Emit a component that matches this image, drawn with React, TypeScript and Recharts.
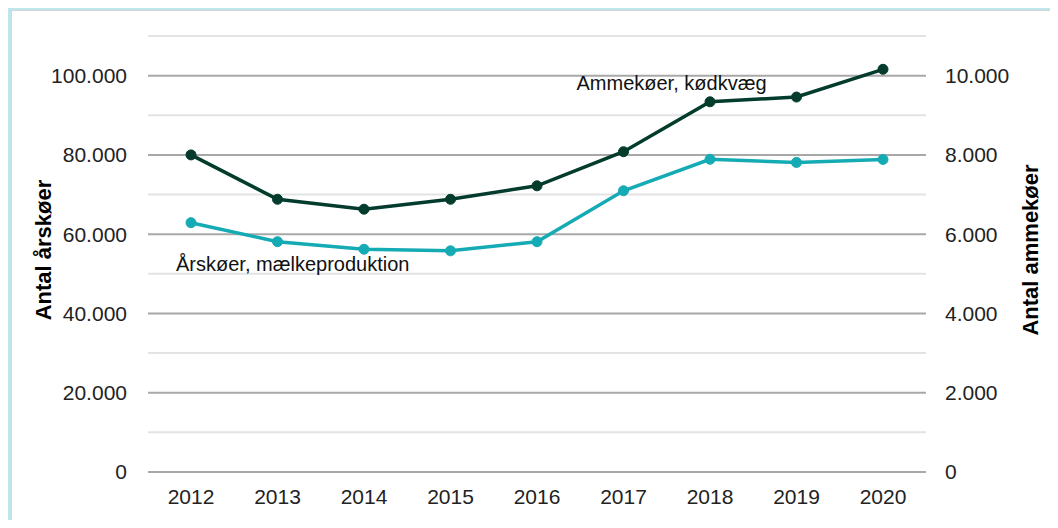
import React from 'react';
import { LineChart, Line, XAxis, YAxis, ReferenceLine, ReferenceDot, Label } from 'recharts';

// Årstal langs x-aksen
const years = ['2012', '2013', '2014', '2015', '2016', '2017', '2018', '2019', '2020'];
// Årskøer, mælkeproduktion (venstre akse)
const aarskoeer = [62900, 58100, 56200, 55800, 58100, 70950, 78900, 78100, 78850];
// Ammekøer, kødkvæg (højre akse)
const ammekoeer = [8000, 6880, 6630, 6880, 7220, 8080, 9340, 9460, 10160];

const leftTicks = [0, 20000, 40000, 60000, 80000, 100000];
const rightTicks = [0, 2000, 4000, 6000, 8000, 10000];
// Hjælpelinjer for hver 10.000 – mørke ved de nummererede værdier
const majorGrid = [0, 20000, 40000, 60000, 80000, 100000];
const minorGrid = [10000, 30000, 50000, 70000, 90000, 110000];

const FONT = '"Liberation Sans", Arial, sans-serif';
const DARK = '#033b2c';
const TEAL = '#15abb5';

const chartData = years.map((year, i) => ({
  year,
  aarskoeer: aarskoeer[i],
  ammekoeer: ammekoeer[i],
}));

const fmt = (v: number) => v.toLocaleString('da-DK').replace(/\u00a0/g, '.').replace(/,/g, '.');

const tickStyle = { fontSize: 21, fill: '#222', fontFamily: FONT };

const AxisTitle = (text: string, dx: number) => (props: any) => {
  const vb = props.viewBox;
  const cx = vb.x + dx;
  const cy = vb.y + vb.height / 2 - 4;
  return (
    <text
      x={cx}
      y={cy}
      transform={`rotate(-90 ${cx} ${cy})`}
      textAnchor="middle"
      dominantBaseline="central"
      fontSize={22}
      fontWeight="bold"
      fontFamily={FONT}
      fill="#000"
    >
      {text}
    </text>
  );
};

const Note = (text: string, dx: number) => (props: any) => {
  const vb = props.viewBox;
  return (
    <text x={vb.x + dx} y={vb.y} fontSize={20} fontFamily={FONT} fill="#111">
      {text}
    </text>
  );
};

export default function App() {
  return (
    <div style={{ margin: -8, width: 1058, height: 528, background: '#bfe7eb', position: 'relative', overflow: 'hidden' }}>
      <div
        style={{
          position: 'absolute',
          left: 11,
          top: 10,
          width: 1047,
          height: 518,
          background: '#fff',
          borderTop: '1px solid #d6d6d6',
          borderLeft: '1px solid #d6d6d6',
        }}
      >
        <LineChart width={1046} height={517} data={chartData} margin={{ top: 25, right: 10, bottom: 26, left: 56 }}>
          <XAxis
            dataKey="year"
            axisLine={false}
            tickLine={false}
            tickSize={0}
            tickMargin={17}
            height={30}
            padding={{ left: 43, right: 43 }}
            tick={tickStyle}
            interval={0}
          />
          <YAxis
            yAxisId="left"
            domain={[0, 110000]}
            ticks={leftTicks}
            tickFormatter={fmt}
            axisLine={false}
            tickLine={false}
            tickSize={0}
            tickMargin={21}
            width={80}
            tick={tickStyle}
          >
            <Label content={AxisTitle('Antal årskøer', -24.5)} />
          </YAxis>
          <YAxis
            yAxisId="right"
            orientation="right"
            domain={[0, 11000]}
            ticks={rightTicks}
            tickFormatter={fmt}
            axisLine={false}
            tickLine={false}
            tickSize={0}
            tickMargin={19}
            width={122}
            tick={{ ...tickStyle, textAnchor: 'start' }}
          >
            <Label content={AxisTitle('Antal ammekøer', 104)} />
          </YAxis>

          {minorGrid.map((v) => (
            <ReferenceLine key={'m' + v} yAxisId="left" y={v} stroke="#e3e3e3" strokeWidth={2} />
          ))}
          {majorGrid.map((v) => (
            <ReferenceLine key={'M' + v} yAxisId="left" y={v} stroke="#a8a8a8" strokeWidth={2} />
          ))}

          <Line
            yAxisId="left"
            dataKey="aarskoeer"
            stroke={TEAL}
            strokeWidth={3.5}
            dot={{ r: 5, fill: TEAL, stroke: TEAL, strokeWidth: 1 }}
            activeDot={false}
            isAnimationActive={false}
          />
          <Line
            yAxisId="right"
            dataKey="ammekoeer"
            stroke={DARK}
            strokeWidth={3.5}
            dot={{ r: 5, fill: DARK, stroke: DARK, strokeWidth: 1 }}
            activeDot={false}
            isAnimationActive={false}
          />

          <ReferenceDot yAxisId="right" x="2017" y={9650} r={0} stroke="none" fill="none">
            <Label content={Note('Ammekøer, kødkvæg', -47)} />
          </ReferenceDot>
          <ReferenceDot yAxisId="left" x="2012" y={50800} r={0} stroke="none" fill="none">
            <Label content={Note('Årskøer, mælkeproduktion', -15)} />
          </ReferenceDot>
        </LineChart>
      </div>
    </div>
  );
}
